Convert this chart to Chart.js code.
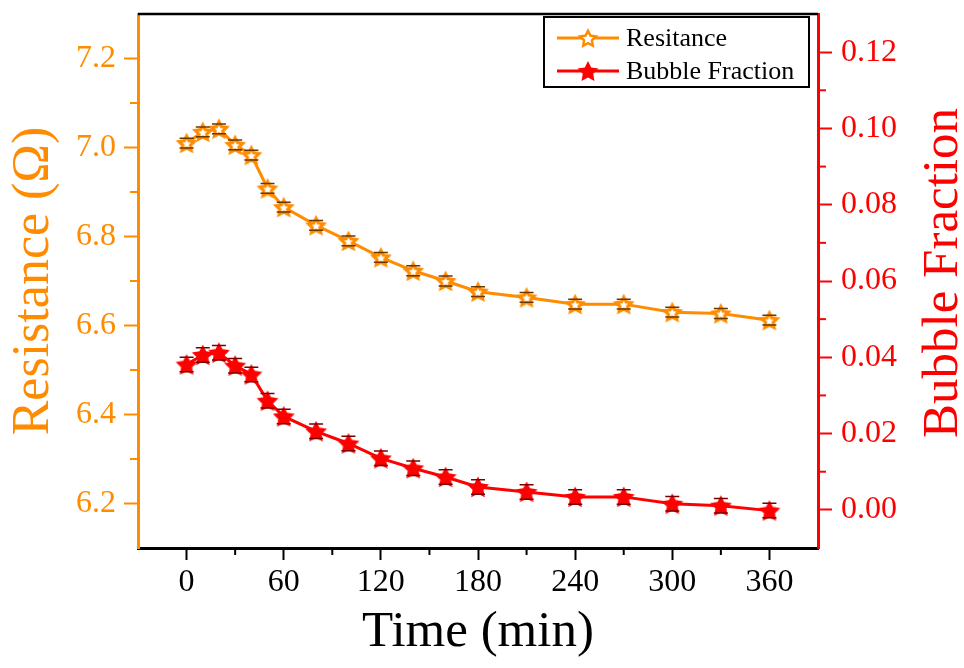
<!DOCTYPE html>
<html>
<head>
<meta charset="utf-8">
<script src="https://cdn.jsdelivr.net/npm/chart.js@4.4.0/dist/chart.umd.min.js"></script>
<style>
html, body { margin: 0; padding: 0; background: #fff; }
#wrap { width: 964px; height: 668px; }
</style>
</head>
<body>
<div id="wrap"><canvas id="chart" width="964" height="668"></canvas></div>
<script>
// data
var times = [0, 10, 20, 30, 40, 50, 60, 80, 100, 120, 140, 160, 180, 210, 240, 270, 300, 330, 360];
var resistance = [7.010, 7.035, 7.042, 7.006, 6.983, 6.908, 6.866, 6.825, 6.790, 6.753, 6.723, 6.700, 6.676, 6.663, 6.648, 6.648, 6.630, 6.627, 6.612];
var resistanceErr = [0.011, 0.011, 0.011, 0.011, 0.011, 0.011, 0.011, 0.011, 0.011, 0.011, 0.011, 0.011, 0.011, 0.011, 0.011, 0.011, 0.011, 0.011, 0.011];
var bubble = [0.0381, 0.0406, 0.0412, 0.0378, 0.0355, 0.0286, 0.0245, 0.0206, 0.0174, 0.0135, 0.0109, 0.0086, 0.0060, 0.0047, 0.0034, 0.0034, 0.0016, 0.0011, -0.0002];
var bubbleErr = [0.0019, 0.0019, 0.0019, 0.0019, 0.0019, 0.0019, 0.0019, 0.0019, 0.0019, 0.0019, 0.0019, 0.0019, 0.0019, 0.0019, 0.0019, 0.0019, 0.0019, 0.0019, 0.0019];
var timeTicks = [0, 60, 120, 180, 240, 300, 360];
var resTicks = [6.2, 6.4, 6.6, 6.8, 7.0, 7.2];
var bubbleTicks = [0, 0.02, 0.04, 0.06, 0.08, 0.10, 0.12];

var ORANGE = '#ff8c00';
var RED = '#ff0000';
var SERIF = '"Liberation Serif", "Times New Roman", serif';

function starPath(ctx, cx, cy, r) {
  ctx.beginPath();
  for (var i = 0; i < 10; i++) {
    var rad = i % 2 === 0 ? r : r * 0.5;
    var a = -Math.PI / 2 + i * Math.PI / 5;
    ctx.lineTo(cx + rad * Math.cos(a), cy + rad * Math.sin(a));
  }
  ctx.closePath();
}

// star marker, optionally with the legend line through it
function makeStar(color, hollow, withLine) {
  var w = withLine ? 62 : 26, h = 26;
  var c = document.createElement('canvas');
  c.width = w; c.height = h;
  var ctx = c.getContext('2d');
  if (withLine) {
    ctx.strokeStyle = color; ctx.lineWidth = 3;
    ctx.beginPath(); ctx.moveTo(0, h / 2); ctx.lineTo(w, h / 2); ctx.stroke();
  }
  var r = withLine ? 11 : 11.5;
  starPath(ctx, w / 2, h / 2 + 1, r);
  ctx.fillStyle = color; ctx.fill();
  if (hollow) {
    starPath(ctx, w / 2, h / 2 + 1, withLine ? 5.5 : 4.5);
    ctx.fillStyle = '#fff'; ctx.fill();
  }
  return c;
}

function toPoints(ys) {
  return times.map(function (t, i) { return { x: t, y: ys[i] }; });
}

function fixedTicks(list) {
  return function (s) { s.ticks = list.map(function (v) { return { value: v }; }); };
}

function minorValues(list, min, max) {
  var out = [];
  var step = list[1] - list[0];
  var first = list[0] - step / 2, last = list[list.length - 1] + step / 2;
  if (first > min + 1e-9) out.push(first);
  for (var i = 0; i < list.length - 1; i++) out.push((list[i] + list[i + 1]) / 2);
  if (last < max - 1e-9) out.push(last);
  return out;
}

// error bars: stems under the markers, caps over them
function drawErrors(chart, caps) {
  var ctx = chart.ctx;
  chart.data.datasets.forEach(function (ds, di) {
    var meta = chart.getDatasetMeta(di);
    var ys = chart.scales[ds.yAxisID];
    ctx.save();
    ctx.strokeStyle = ds.errColor;
    ctx.lineWidth = 1.5;
    meta.data.forEach(function (pt, i) {
      var v = ds.data[i].y, e = ds.errors[i];
      var y1 = ys.getPixelForValue(v + e), y2 = ys.getPixelForValue(v - e);
      ctx.beginPath();
      if (caps) {
        ctx.moveTo(pt.x - 7, y1); ctx.lineTo(pt.x + 7, y1);
        ctx.moveTo(pt.x - 7, y2); ctx.lineTo(pt.x + 7, y2);
      } else {
        ctx.moveTo(pt.x, y1); ctx.lineTo(pt.x, y2);
      }
      ctx.stroke();
    });
    ctx.restore();
  });
}

var extras = {
  id: 'extras',
  beforeDatasetsDraw: function (chart) { drawErrors(chart, false); },
  afterDatasetsDraw: function (chart) { drawErrors(chart, true); },
  afterDraw: function (chart) {
    var ctx = chart.ctx, a = chart.chartArea;
    var sx = chart.scales.x, sl = chart.scales.yRes, sr = chart.scales.yBub;
    ctx.save();
    // top frame line
    ctx.strokeStyle = '#000'; ctx.lineWidth = 2.5;
    ctx.beginPath(); ctx.moveTo(a.left, a.top); ctx.lineTo(a.right, a.top); ctx.stroke();
    // minor ticks
    ctx.lineWidth = 2;
    ctx.strokeStyle = '#000';
    minorValues(timeTicks, sx.min, sx.max).forEach(function (v) {
      var px = sx.getPixelForValue(v);
      ctx.beginPath(); ctx.moveTo(px, a.bottom); ctx.lineTo(px, a.bottom + 7); ctx.stroke();
    });
    ctx.strokeStyle = ORANGE;
    minorValues(resTicks, sl.min, sl.max).forEach(function (v) {
      var py = sl.getPixelForValue(v);
      ctx.beginPath(); ctx.moveTo(a.left, py); ctx.lineTo(a.left - 8, py); ctx.stroke();
    });
    ctx.strokeStyle = RED;
    minorValues(bubbleTicks, sr.min, sr.max).forEach(function (v) {
      var py = sr.getPixelForValue(v);
      ctx.beginPath(); ctx.moveTo(a.right, py); ctx.lineTo(a.right + 8, py); ctx.stroke();
    });
    // right axis title, reading bottom to top
    ctx.save();
    ctx.translate(957, 273);
    ctx.rotate(-Math.PI / 2);
    ctx.fillStyle = RED;
    ctx.font = '51px ' + SERIF;
    ctx.textAlign = 'center';
    ctx.textBaseline = 'alphabetic';
    ctx.fillText('Bubble Fraction', 0, 0);
    ctx.restore();
    // legend box
    ctx.fillStyle = '#fff';
    ctx.fillRect(544, 17, 265, 70);
    ctx.strokeStyle = '#000'; ctx.lineWidth = 2;
    ctx.strokeRect(544, 17, 265, 70);
    ctx.font = '26px ' + SERIF;
    ctx.textAlign = 'left';
    ctx.textBaseline = 'middle';
    ctx.fillStyle = '#000';
    chart.data.datasets.forEach(function (ds, i) {
      var cy = 38 + i * 33;
      ctx.drawImage(ds.legendImg, 557, cy - 13);
      ctx.fillText(ds.label, 626, cy + 1);
    });
    ctx.restore();
  }
};

var tickFont = { family: SERIF, size: 32 };

new Chart(document.getElementById('chart'), {
  type: 'line',
  data: {
    datasets: [{
      label: 'Resitance',
      data: toPoints(resistance),
      errors: resistanceErr,
      errColor: '#6b3800',
      legendImg: makeStar(ORANGE, true, true),
      yAxisID: 'yRes',
      borderColor: ORANGE,
      backgroundColor: ORANGE,
      borderWidth: 3,
      pointStyle: makeStar(ORANGE, true, false),
      pointRadius: 11,
      tension: 0
    }, {
      label: 'Bubble Fraction',
      data: toPoints(bubble),
      errors: bubbleErr,
      errColor: '#7a0000',
      legendImg: makeStar(RED, false, true),
      yAxisID: 'yBub',
      borderColor: RED,
      backgroundColor: RED,
      borderWidth: 3,
      pointStyle: makeStar(RED, false, false),
      pointRadius: 11,
      tension: 0
    }]
  },
  options: {
    responsive: false,
    animation: false,
    devicePixelRatio: 1,
    layout: { padding: { top: 12, left: 0, right: 0, bottom: 0 } },
    plugins: { legend: { display: false }, tooltip: { enabled: false } },
    scales: {
      x: {
        type: 'linear', min: -30, max: 390,
        afterBuildTicks: fixedTicks(timeTicks),
        afterFit: function (s) { s.height = 120; s.paddingLeft = 0; s.paddingRight = 0; },
        border: { color: '#000', width: 3 },
        grid: { drawOnChartArea: false, tickLength: 12, tickWidth: 2, tickColor: '#000' },
        ticks: { color: '#000', font: tickFont, padding: 3, maxRotation: 0, autoSkip: false },
        title: { display: true, text: 'Time (min)', color: '#000', font: { family: SERIF, size: 51, lineHeight: 1.2 }, padding: { top: 0, bottom: 5 } }
      },
      yRes: {
        type: 'linear', position: 'left', min: 6.1, max: 7.3,
        afterBuildTicks: fixedTicks(resTicks),
        afterFit: function (s) { s.width = 138; s.paddingTop = 0; s.paddingBottom = 0; },
        border: { color: ORANGE, width: 3 },
        grid: { drawOnChartArea: false, tickLength: 14, tickWidth: 2, tickColor: ORANGE },
        ticks: { color: ORANGE, font: tickFont, padding: 8, autoSkip: false, callback: function (v) { return v.toFixed(1); } },
        title: { display: true, text: 'Resistance (Ω)', color: ORANGE, font: { family: SERIF, size: 52, lineHeight: 1.2 }, padding: { top: 3, bottom: 0 } }
      },
      yBub: {
        type: 'linear', position: 'right', min: -0.01, max: 0.13,
        afterBuildTicks: fixedTicks(bubbleTicks),
        afterFit: function (s) { s.width = 146; s.paddingTop = 0; s.paddingBottom = 0; },
        border: { color: RED, width: 3 },
        grid: { drawOnChartArea: false, tickLength: 14, tickWidth: 2, tickColor: RED },
        ticks: { color: RED, font: tickFont, padding: 9, autoSkip: false, callback: function (v) { return v.toFixed(2); } }
      }
    }
  },
  plugins: [extras]
});
</script>
</body>
</html>
